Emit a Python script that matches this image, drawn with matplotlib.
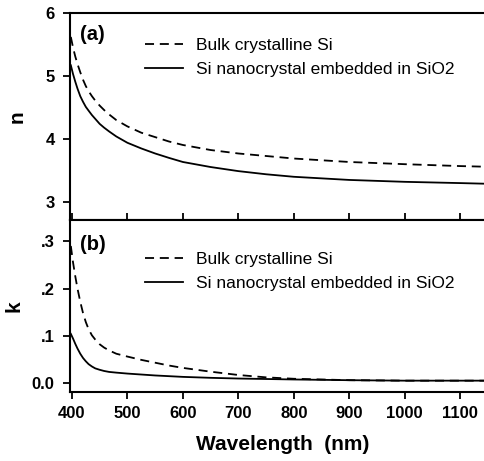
import matplotlib
matplotlib.use("Agg")
import matplotlib.pyplot as plt

plt.rcParams['font.family'] = ['Liberation Sans', 'DejaVu Sans']

# wavelength grid (nm)
wavelength = [398, 402, 406, 410, 415, 420, 425, 430, 436, 442, 450, 458, 467, 480,
              500, 525, 550, 575, 600, 650, 700, 750, 800, 900, 1000, 1100, 1145]

# refractive index n
n_bulk = [5.62, 5.45, 5.31, 5.19, 5.06, 4.94, 4.84, 4.76, 4.68, 4.61, 4.53, 4.46, 4.39, 4.30,
          4.20, 4.10, 4.03, 3.96, 3.905, 3.825, 3.77, 3.73, 3.69, 3.635, 3.60, 3.57, 3.56]
n_nano = [5.17, 5.03, 4.91, 4.80, 4.68, 4.59, 4.51, 4.45, 4.38, 4.32, 4.24, 4.18, 4.12, 4.04,
          3.94, 3.85, 3.77, 3.70, 3.635, 3.555, 3.49, 3.44, 3.40, 3.35, 3.32, 3.30, 3.29]

# extinction coefficient k
k_bulk = [0.290, 0.255, 0.226, 0.200, 0.172, 0.148, 0.129, 0.114, 0.101, 0.092, 0.082, 0.075,
          0.069, 0.062, 0.056, 0.049, 0.043, 0.037, 0.032, 0.024, 0.017, 0.012, 0.009, 0.006,
          0.005, 0.005, 0.005]
k_nano = [0.104, 0.094, 0.083, 0.073, 0.062, 0.053, 0.046, 0.040, 0.035, 0.031, 0.028, 0.0255,
          0.0235, 0.022, 0.020, 0.018, 0.016, 0.0145, 0.013, 0.011, 0.0095, 0.0085, 0.0075,
          0.006, 0.005, 0.005, 0.005]

labels = ['Bulk crystalline Si', 'Si nanocrystal embedded in SiO2']

x_ticks = [400, 500, 600, 700, 800, 900, 1000, 1100]
n_ticks = [3, 4, 5, 6]
k_ticks = [0.0, 0.1, 0.2, 0.3]
k_tick_labels = ['0.0', '.1', '.2', '.3']

fig = plt.figure(figsize=(4.84, 4.61), dpi=100)
W, H = 484.0, 461.0
left = 70 / W
ax1 = fig.add_axes([left, 1 - 220 / H, 1 - left, (220 - 13) / H])
ax2 = fig.add_axes([left, 1 - 392 / H, 1 - left, (392 - 220) / H])

dash = (0, (5, 3.2))
for ax, yb, yn in [(ax1, n_bulk, n_nano), (ax2, k_bulk, k_nano)]:
    ax.plot(wavelength, yb, color='black', lw=1.3, linestyle=dash, label=labels[0])
    ax.plot(wavelength, yn, color='black', lw=1.3, label=labels[1])
    ax.set_xlim(396.5, 1143)
    ax.spines['right'].set_visible(False)
    for s in ['left', 'top', 'bottom']:
        ax.spines[s].set_linewidth(1.5)
    ax.set_xticks(x_ticks)
    ax.tick_params(axis='y', direction='out', length=5, width=1.3, pad=6,
                   labelsize=12)
    ax.legend(frameon=False, fontsize=12.5, handlelength=2.2,
              handletextpad=0.75, labelspacing=0.5, borderpad=0,
              borderaxespad=0, loc='upper left')

ax1.set_ylim(2.714, 6.0)
ax1.set_yticks(n_ticks)
ax1.set_yticklabels([str(v) for v in n_ticks], fontweight='bold')
ax1.tick_params(axis='x', direction='in', length=5, width=1.3, labelbottom=False)
ax1.legend_.set_bbox_to_anchor((0.18, 0.88))
ax1.text(0.024, 0.94, '(a)', transform=ax1.transAxes, fontsize=14.5,
         fontweight='bold', va='top', ha='left')
ax1.set_ylabel('n', fontsize=15, fontweight='bold')
ax1.yaxis.set_label_coords(-0.104, 0.5)

ax2.set_ylim(-0.019, 0.345)
ax2.set_yticks(k_ticks)
ax2.set_yticklabels(k_tick_labels, fontweight='bold')
ax2.tick_params(axis='x', direction='out', length=5, width=1.3, pad=5,
                labelsize=12)
ax2.set_xticklabels([str(v) for v in x_ticks], fontweight='bold')
ax2.legend_.set_bbox_to_anchor((0.18, 0.815))
ax2.text(0.024, 0.91, '(b)', transform=ax2.transAxes, fontsize=14.5,
         fontweight='bold', va='top', ha='left')
ax2.set_ylabel('k', fontsize=15, fontweight='bold')
ax2.yaxis.set_label_coords(-0.112, 0.5)
ax2.set_xlabel('Wavelength  (nm)', fontsize=15, fontweight='bold')
ax2.xaxis.set_label_coords(0.514, -0.25)

fig.savefig('out.png', dpi=100)
